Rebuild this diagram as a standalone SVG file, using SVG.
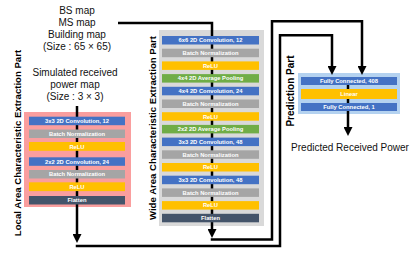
<svg xmlns="http://www.w3.org/2000/svg" width="415" height="255" viewBox="0 0 415 255">
<style>
.t{font-family:"Liberation Sans",Arial,sans-serif;font-size:10px;fill:#111;text-anchor:middle}
.v{font-family:"Liberation Sans",Arial,sans-serif;font-size:9.6px;font-weight:bold;fill:#000;text-anchor:middle}
.b{font-family:"Liberation Sans",Arial,sans-serif;font-size:5.8px;font-weight:bold;fill:#fff;text-anchor:middle}
.blue{fill:#4472C4}.gray{fill:#A5A5A5}.yel{fill:#FFC000}.grn{fill:#70AD47}.dark{fill:#44546A}
.ln{fill:none;stroke:#000;stroke-width:2.5}
</style>
<defs>
<marker id="ah" viewBox="0 -4.5 9 9" refX="0" refY="0" markerWidth="9" markerHeight="9" markerUnits="userSpaceOnUse" orient="auto">
<path d="M0,-4.5 L9,0 L0,4.5 z" fill="#000"/>
</marker>
</defs>

<text class="t" x="77" y="13.5">BS map</text>
<text class="t" x="77" y="25.5">MS map</text>
<text class="t" x="77" y="37.5">Building map</text>
<text class="t" x="77" y="49.5">(Size : 65 × 65)</text>
<text class="t" x="75" y="76">Simulated received</text>
<text class="t" x="75" y="88">power map</text>
<text class="t" x="75" y="100">(Size : 3 × 3)</text>

<text class="v" transform="translate(20.5,143) rotate(-90)">Local Area Characteristic Extraction Part</text>
<text class="v" transform="translate(155.5,128) rotate(-90)">Wide Area Characteristic Extraction Part</text>
<text class="v" style="font-size:10px" transform="translate(293.5,91) rotate(-90)">Prediction Part</text>

<rect x="24" y="112" width="107" height="95" fill="#FA9E9E"/>
<rect x="159" y="30" width="105" height="196" fill="#D9D9D9"/>
<rect x="298" y="73" width="102" height="41" fill="#B4D2F0"/>

<g id="connectors">
<polyline class="ln" points="77,106 77,234" marker-end="url(#ah)"/>
<polyline class="ln" points="75.75,246 280,246 280,35.3 332,35.3 332,66" marker-end="url(#ah)"/>
<polyline class="ln" points="118,23 212,23 212,229" marker-end="url(#ah)"/>
<polyline class="ln" points="210.75,239.5 272,239.5 272,21.3 362,21.3 362,66" marker-end="url(#ah)"/>
<polyline class="ln" points="348,77 348,127" marker-end="url(#ah)"/>
</g>

<g id="local">
<g id="l1"><rect class="blue" x="29" y="116.7" width="96" height="8.5"/><text class="b" x="77" y="123">3x3 2D Convolution, 12</text></g>
<g id="l2"><rect class="gray" x="29" y="129.5" width="96" height="8.5"/><text class="b" x="77" y="135.8">Batch Normalization</text></g>
<g id="l3"><rect class="yel" x="29" y="142" width="96" height="8.8"/><text class="b" x="77" y="148.5">ReLU</text></g>
<g id="l4"><rect class="blue" x="29" y="157.3" width="96" height="8.5"/><text class="b" x="77" y="163.6">2x2 2D Convolution, 24</text></g>
<g id="l5"><rect class="gray" x="29" y="170" width="96" height="8.5"/><text class="b" x="77" y="176.3">Batch Normalization</text></g>
<g id="l6"><rect class="yel" x="29" y="182.3" width="96" height="8.8"/><text class="b" x="77" y="188.8">ReLU</text></g>
<g id="l7"><rect class="dark" x="29" y="196" width="96" height="8.5"/><text class="b" x="77" y="202.3">Flatten</text></g>
</g>

<g id="wide">
<g id="w1"><rect class="blue" x="162" y="36" width="97" height="8.5"/><text class="b" x="210.5" y="42.3">6x6 2D Convolution, 12</text></g>
<g id="w2"><rect class="gray" x="162" y="48.7" width="97" height="8.5"/><text class="b" x="210.5" y="55">Batch Normalization</text></g>
<g id="w3"><rect class="yel" x="162" y="61.4" width="97" height="8.5"/><text class="b" x="210.5" y="67.7">ReLU</text></g>
<g id="w4"><rect class="grn" x="162" y="74.1" width="97" height="8.5"/><text class="b" x="210.5" y="80.4">4x4 2D Average Pooling</text></g>
<g id="w5"><rect class="blue" x="162" y="86.8" width="97" height="8.5"/><text class="b" x="210.5" y="93.1">4x4 2D Convolution, 24</text></g>
<g id="w6"><rect class="gray" x="162" y="99.5" width="97" height="8.5"/><text class="b" x="210.5" y="105.8">Batch Normalization</text></g>
<g id="w7"><rect class="yel" x="162" y="112.2" width="97" height="8.5"/><text class="b" x="210.5" y="118.5">ReLU</text></g>
<g id="w8"><rect class="grn" x="162" y="124.9" width="97" height="8.5"/><text class="b" x="210.5" y="131.2">2x2 2D Average Pooling</text></g>
<g id="w9"><rect class="blue" x="162" y="137.6" width="97" height="8.5"/><text class="b" x="210.5" y="143.9">3x3 2D Convolution, 48</text></g>
<g id="w10"><rect class="gray" x="162" y="150.3" width="97" height="8.5"/><text class="b" x="210.5" y="156.6">Batch Normalization</text></g>
<g id="w11"><rect class="yel" x="162" y="163" width="97" height="8.5"/><text class="b" x="210.5" y="169.3">ReLU</text></g>
<g id="w12"><rect class="blue" x="162" y="175.7" width="97" height="8.5"/><text class="b" x="210.5" y="182">3x3 2D Convolution, 48</text></g>
<g id="w13"><rect class="gray" x="162" y="188.4" width="97" height="8.5"/><text class="b" x="210.5" y="194.7">Batch Normalization</text></g>
<g id="w14"><rect class="yel" x="162" y="201.1" width="97" height="8.5"/><text class="b" x="210.5" y="207.4">ReLU</text></g>
<g id="w15"><rect class="dark" x="162" y="213.8" width="97" height="8.5"/><text class="b" x="210.5" y="220.1">Flatten</text></g>
</g>

<g id="prediction">
<g id="p1"><rect class="blue" x="301" y="77" width="96" height="8"/><text class="b" x="349" y="83.1">Fully Connected, 408</text></g>
<g id="p2"><rect class="yel" x="301" y="89" width="96" height="10"/><text class="b" x="349" y="96.1">Linear</text></g>
<g id="p3"><rect class="blue" x="301" y="103" width="96" height="8"/><text class="b" x="349" y="109.1">Fully Connected, 1</text></g>
</g>

<text class="t" x="350" y="151">Predicted Received Power</text>
</svg>
